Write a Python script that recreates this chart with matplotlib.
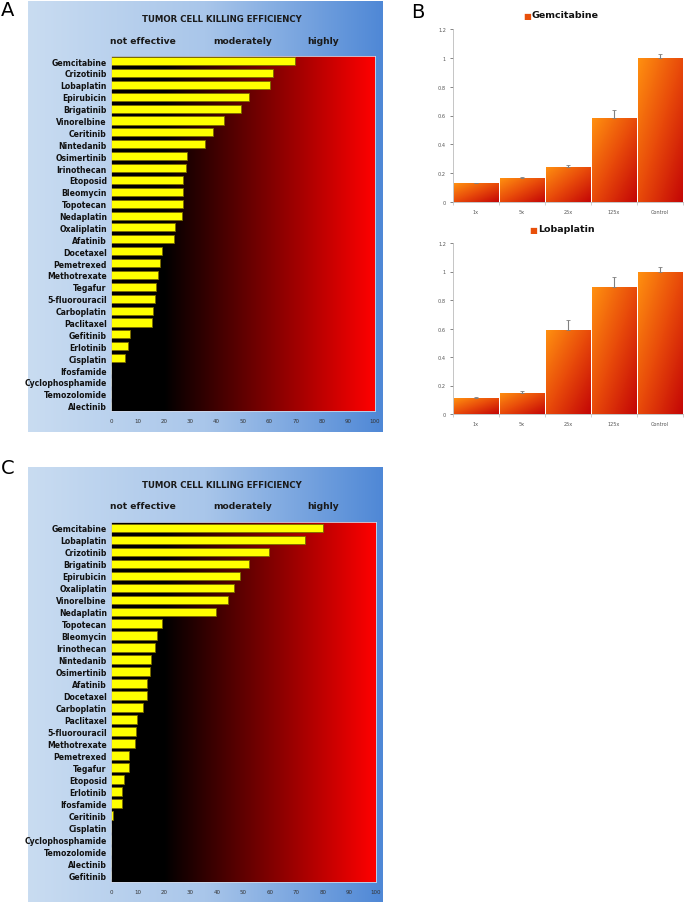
import numpy as np
import matplotlib
matplotlib.use("Agg")
import matplotlib.pyplot as plt
from matplotlib.colors import LinearSegmentedColormap

# ---- data ----
drugs_a = ["Gemcitabine", "Crizotinib", "Lobaplatin", "Epirubicin", "Brigatinib",
           "Vinorelbine", "Ceritinib", "Nintedanib", "Osimertinib", "Irinothecan",
           "Etoposid", "Bleomycin", "Topotecan", "Nedaplatin", "Oxaliplatin",
           "Afatinib", "Docetaxel", "Pemetrexed", "Methotrexate", "Tegafur",
           "5-fluorouracil", "Carboplatin", "Paclitaxel", "Gefitinib", "Erlotinib",
           "Cisplatin", "Ifosfamide", "Cyclophosphamide", "Temozolomide", "Alectinib"]
eff_a = [69.6, 61.5, 60.2, 52.1, 49.1, 42.9, 38.8, 35.7, 28.7, 28.3,
         27.4, 27.4, 27.3, 26.8, 24.4, 23.7, 19.3, 18.7, 17.7, 16.9,
         16.7, 15.8, 15.4, 7.1, 6.4, 5.3, 0, 0, 0, 0]

drugs_c = ["Gemcitabine", "Lobaplatin", "Crizotinib", "Brigatinib", "Epirubicin",
           "Oxaliplatin", "Vinorelbine", "Nedaplatin", "Topotecan", "Bleomycin",
           "Irinothecan", "Nintedanib", "Osimertinib", "Afatinib", "Docetaxel",
           "Carboplatin", "Paclitaxel", "5-fluorouracil", "Methotrexate", "Pemetrexed",
           "Tegafur", "Etoposid", "Erlotinib", "Ifosfamide", "Ceritinib",
           "Cisplatin", "Cyclophosphamide", "Temozolomide", "Alectinib", "Gefitinib"]
eff_c = [80.0, 73.2, 59.6, 52.1, 48.6, 46.3, 44.0, 39.5, 19.4, 17.5,
         16.6, 15.0, 14.6, 13.7, 13.6, 12.2, 9.9, 9.4, 8.9, 6.8,
         6.7, 4.8, 4.0, 4.0, 0.6, 0, 0, 0, 0, 0]

doses = ["1x", "5x", "25x", "125x", "Control"]
gem_vals = [0.13, 0.165, 0.245, 0.58, 1.0]
gem_err = [0.005, 0.005, 0.015, 0.055, 0.03]
lob_vals = [0.11, 0.15, 0.59, 0.89, 1.0]
lob_err = [0.01, 0.01, 0.07, 0.07, 0.03]

W, H = 685, 904
fig = plt.figure(figsize=(W / 100, H / 100), dpi=100)


def rect(x0, y0, x1, y1):
    # pixel box (top-left origin) -> figure fraction
    return [x0 / W, 1 - y1 / H, (x1 - x0) / W, (y1 - y0) / H]


def fx(x):
    return x / W


def fy(y):
    return 1 - y / H


blue_cm = LinearSegmentedColormap.from_list("bl", ["#c9dcf1", "#a9c6ea", "#4f88d6"])
red_cm = LinearSegmentedColormap.from_list("rd", [(0, "#000000"), (0.2, "#000000"), (1, "#ff0000")])
bar_cm = LinearSegmentedColormap.from_list("og", ["#ff9010", "#e84a0a", "#c40606"])


def efficiency_panel(box, area, names, vals, top_pad, bot_pad):
    bg = fig.add_axes(rect(*box))
    bg.imshow(np.linspace(0, 1, 256)[None, :], cmap=blue_cm, aspect="auto",
              extent=[0, 1, 0, 1])
    bg.set_axis_off()

    ax = fig.add_axes(rect(*area))
    n = len(names)
    y = np.arange(n)
    ax.imshow(np.linspace(0, 1, 256)[None, :], cmap=red_cm, aspect="auto",
              extent=[0, 100, n - 1 + bot_pad, -top_pad], zorder=0)
    ax.barh(y, vals, height=0.68, color="#ffff00", edgecolor="#7a6a00",
            linewidth=0.6, zorder=2)
    ax.set_xlim(0, 100)
    ax.set_ylim(n - 1 + bot_pad, -top_pad)
    ax.set_yticks(y)
    ax.set_yticklabels(names, fontsize=5.6, fontweight="bold", color="#111111")
    ax.set_xticks(np.arange(0, 101, 10))
    ax.tick_params(axis="x", labelsize=4, colors="#333333", length=0, pad=5)
    ax.tick_params(axis="y", length=0, pad=3)
    for s in ax.spines.values():
        s.set_color("#d0d8e8")
        s.set_linewidth(0.6)

    x0, y0 = box[0], box[1]
    fig.text(fx(x0 + 194), fy(y0 + 18), "TUMOR CELL KILLING EFFICIENCY",
             ha="center", va="center", fontsize=6.2, fontweight="bold", color="#1a1a1a")
    fig.text(fx(x0 + 115), fy(y0 + 39), "not effective", ha="center", va="center",
             fontsize=6.6, fontweight="bold", color="#1a1a1a")
    fig.text(fx(x0 + 215), fy(y0 + 39), "moderately", ha="center", va="center",
             fontsize=6.6, fontweight="bold", color="#1a1a1a")
    fig.text(fx(x0 + 295), fy(y0 + 39), "highly", ha="center", va="center",
             fontsize=6.6, fontweight="bold", color="#1a1a1a")


def gradient_bars(area, vals, errs, title, title_x):
    ax = fig.add_axes(rect(*area))
    x = np.arange(len(vals))
    bars = ax.bar(x, vals, width=0.97, color="none", edgecolor="white", linewidth=0.8)
    gx, gy = np.meshgrid(np.linspace(0, 1, 64), np.linspace(0, 1, 64))
    grad = (gx + gy) / 2
    for b in bars:
        im = ax.imshow(grad, cmap=bar_cm, aspect="auto",
                       extent=[b.get_x(), b.get_x() + b.get_width(), 0, b.get_height()],
                       origin="upper", zorder=1)
        im.set_clip_path(b)
    ax.errorbar(x, vals, yerr=[np.zeros(len(errs)), errs], fmt="none",
                ecolor="#808080", elinewidth=0.8, capsize=1.5, capthick=0.6, zorder=3)
    ax.set_xlim(-0.5, len(vals) - 0.5)
    ax.set_ylim(0, 1.2)
    ax.set_yticks(np.arange(0, 1.21, 0.2))
    ax.set_yticklabels(["0", "0.2", "0.4", "0.6", "0.8", "1", "1.2"])
    ax.set_xticks(x)
    ax.set_xticklabels(doses)
    ax.set_xticks(np.arange(-0.5, len(vals), 1.0), minor=True)
    ax.tick_params(labelsize=3.6, colors="#555555", length=2, width=0.5, pad=3)
    ax.tick_params(axis="x", which="major", length=0, pad=5)
    ax.tick_params(axis="x", which="minor", length=2, width=0.5, colors="#bbbbbb")
    for s in ["top", "right"]:
        ax.spines[s].set_visible(False)
    for s in ["left", "bottom"]:
        ax.spines[s].set_color("#bbbbbb")
        ax.spines[s].set_linewidth(0.6)
    ty = area[1] - 14
    fig.text(fx(title_x), fy(ty), "■", ha="right", va="center", fontsize=6,
             color="#e8500a")
    fig.text(fx(title_x + 1), fy(ty), title, ha="left", va="center", fontsize=6.8,
             fontweight="bold", color="#111111")


# panel A
efficiency_panel((28, 2, 383, 433), (111, 57, 375, 412), drugs_a, eff_a, 0.43, 0.45)
# panel C
efficiency_panel((28, 468, 383, 903), (111, 523, 376, 883), drugs_c, eff_c, 0.47, 0.55)
# panel B
gradient_bars((453, 30, 683, 203), gem_vals, gem_err, "Gemcitabine", 531)
gradient_bars((453, 244, 683, 415), lob_vals, lob_err, "Lobaplatin", 537)

fig.text(fx(1), fy(11), "A", fontsize=14, ha="left", va="center")
fig.text(fx(411), fy(13), "B", fontsize=14, ha="left", va="center")
fig.text(fx(1), fy(469), "C", fontsize=14, ha="left", va="center")

fig.savefig("out.png", dpi=100)
